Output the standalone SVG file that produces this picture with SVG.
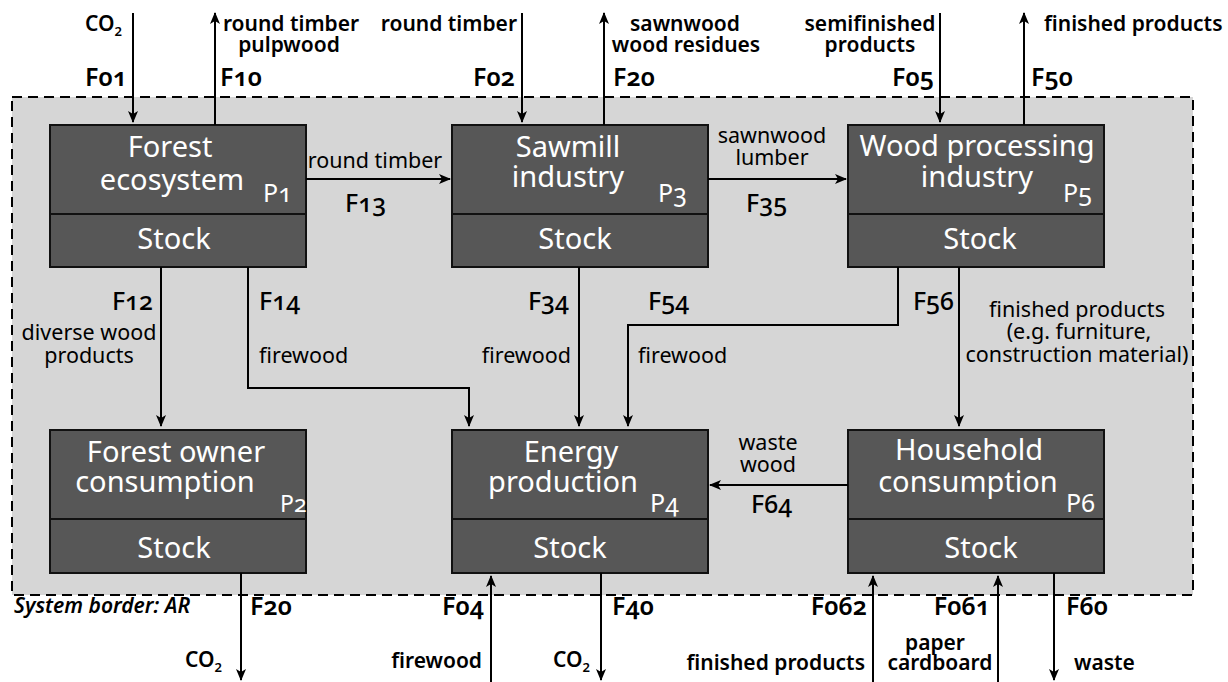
<svg xmlns="http://www.w3.org/2000/svg" width="1228" height="682" viewBox="0 0 1228 682">
<defs>
<style>
.bg{fill:#fff}
.border{fill:#d6d6d6;stroke:#000;stroke-width:2;stroke-dasharray:10 6}
.box{fill:#575757;stroke:#111;stroke-width:2}
.t{font-family:"Noto Sans","Open Sans",sans-serif;fill:#fff;font-size:29px;text-anchor:middle}
.p{font-family:"Noto Sans","Open Sans",sans-serif;fill:#fff;font-size:25px;font-variant-numeric:oldstyle-nums;font-feature-settings:"onum"}
.lb{font-family:"Noto Sans","Open Sans",sans-serif;font-size:21px;font-weight:600;fill:#000}
.lr{font-family:"Noto Sans","Open Sans",sans-serif;font-size:21.5px;font-weight:400;fill:#000}
.f{font-family:"Noto Sans","Open Sans",sans-serif;font-size:25px;font-weight:600;fill:#000;font-variant-numeric:oldstyle-nums;font-feature-settings:"onum"}
.fr{font-family:"Noto Sans","Open Sans",sans-serif;font-size:25px;font-weight:500;fill:#000;font-variant-numeric:oldstyle-nums;font-feature-settings:"onum"}
.m{text-anchor:middle}
.e{text-anchor:end}
.c{fill:none;stroke:#000;stroke-width:2;marker-end:url(#ah)}
</style>
<marker id="ah" viewBox="0 0 12 10" refX="11" refY="5" markerWidth="12" markerHeight="10" markerUnits="userSpaceOnUse" orient="auto">
<path d="M0,0 L12,5 L0,10 L3,5 z" fill="#000"/>
</marker>
</defs>
<rect class="bg" x="0" y="0" width="1228" height="682"/>
<rect id="system-border" class="border" x="12" y="97" width="1181" height="498"/>

<g id="P1">
<rect class="box" x="50" y="125" width="256" height="89"/>
<rect class="box" x="50" y="214" width="256" height="53"/>
<text class="t" x="170" y="157">Forest</text>
<text class="t" x="172" y="190">ecosystem</text>
<text class="p" x="263" y="202">P1</text>
<text class="t" x="174" y="249">Stock</text>
</g>
<g id="P3">
<rect class="box" x="452" y="125" width="256" height="89"/>
<rect class="box" x="452" y="214" width="256" height="53"/>
<text class="t" x="568" y="157">Sawmill</text>
<text class="t" x="568" y="187">industry</text>
<text class="p" x="658" y="202">P3</text>
<text class="t" x="575" y="249">Stock</text>
</g>
<g id="P5">
<rect class="box" x="848" y="125" width="256" height="89"/>
<rect class="box" x="848" y="214" width="256" height="53"/>
<text class="t" x="977" y="156">Wood processing</text>
<text class="t" x="977" y="187">industry</text>
<text class="p" x="1063" y="202">P5</text>
<text class="t" x="980" y="249">Stock</text>
</g>
<g id="P2">
<rect class="box" x="50" y="430" width="256" height="89"/>
<rect class="box" x="50" y="519" width="256" height="54"/>
<text class="t" x="176" y="462">Forest owner</text>
<text class="t" x="165" y="492">consumption</text>
<text class="p" x="280" y="512" style="font-size:23px">P2</text>
<text class="t" x="174" y="558">Stock</text>
</g>
<g id="P4">
<rect class="box" x="452" y="430" width="256" height="89"/>
<rect class="box" x="452" y="519" width="256" height="54"/>
<text class="t" x="571" y="462">Energy</text>
<text class="t" x="563" y="492">production</text>
<text class="p" x="650" y="512">P4</text>
<text class="t" x="570" y="558">Stock</text>
</g>
<g id="P6">
<rect class="box" x="848" y="430" width="256" height="89"/>
<rect class="box" x="848" y="519" width="256" height="54"/>
<text class="t" x="969" y="460">Household</text>
<text class="t" x="968" y="492">consumption</text>
<text class="p" x="1066" y="512">P6</text>
<text class="t" x="981" y="558">Stock</text>
</g>

<g id="connectors">
<path class="c" d="M133,13 V122"/>
<path class="c" d="M215,125 V13"/>
<path class="c" d="M522,13 V122"/>
<path class="c" d="M604,125 V13"/>
<path class="c" d="M940,13 V122"/>
<path class="c" d="M1024,125 V13"/>
<path class="c" d="M306,179 H450"/>
<path class="c" d="M708,179 H846"/>
<path class="c" d="M161,267 V426"/>
<path class="c" d="M248,267 V388 H469 V426"/>
<path class="c" d="M579,267 V426"/>
<path class="c" d="M898,267 V325 H628 V426"/>
<path class="c" d="M959,267 V426"/>
<path class="c" d="M848,485 H710"/>
<path class="c" d="M241,573 V680"/>
<path class="c" d="M491,682 V576"/>
<path class="c" d="M601,573 V680"/>
<path class="c" d="M873,682 V576"/>
<path class="c" d="M998,682 V576"/>
<path class="c" d="M1054,573 V680"/>
</g>

<g id="labels">
<text class="lb" x="85" y="31" font-size="20">CO<tspan font-size="13" dy="5">2</tspan></text>
<text class="lb m" x="291" y="31">round timber</text>
<text class="lb m" x="289" y="52">pulpwood</text>
<text class="f e" x="127" y="86">F01</text>
<text class="f" x="220" y="86">F10</text>
<text class="lb e" x="517" y="31">round timber</text>
<text class="f e" x="515" y="86">F02</text>
<text class="lb m" x="685" y="31">sawnwood</text>
<text class="lb m" x="686" y="52">wood residues</text>
<text class="f" x="613" y="86">F20</text>
<text class="lb m" x="870" y="31">semifinished</text>
<text class="lb m" x="870" y="52">products</text>
<text class="f e" x="934" y="86">F05</text>
<text class="f" x="1031" y="86">F50</text>
<text class="lb" x="1044" y="31">finished products</text>

<text class="lr m" x="375" y="168">round timber</text>
<text class="fr" x="345" y="212">F13</text>
<text class="lr m" x="772" y="143">sawnwood</text>
<text class="lr m" x="772" y="165">lumber</text>
<text class="fr" x="746" y="212">F35</text>

<text class="fr e" x="153" y="310">F12</text>
<text class="lr m" x="89" y="340">diverse wood</text>
<text class="lr m" x="89" y="363">products</text>
<text class="fr" x="259" y="310">F14</text>
<text class="lr" x="259" y="363">firewood</text>
<text class="fr e" x="569" y="310">F34</text>
<text class="lr e" x="571" y="363">firewood</text>
<text class="fr" x="648" y="310">F54</text>
<text class="lr" x="638" y="363">firewood</text>
<text class="fr e" x="954" y="310">F56</text>
<text class="lr m" x="1077" y="317">finished products</text>
<text class="lr m" x="1079" y="339">(e.g. furniture,</text>
<text class="lr m" x="1077" y="362">construction material)</text>
<text class="lr m" x="768" y="450">waste</text>
<text class="lr m" x="768" y="472">wood</text>
<text class="fr" x="751" y="513">F64</text>

<text class="lb" x="14" y="613" font-style="italic">System border: AR</text>
<text class="f" x="250" y="615">F20</text>
<text class="lb" x="185" y="667" font-size="20">CO<tspan font-size="13" dy="5">2</tspan></text>
<text class="f e" x="484" y="615">F04</text>
<text class="lb e" x="482" y="668">firewood</text>
<text class="f" x="612" y="615">F40</text>
<text class="lb" x="553" y="667" font-size="20">CO<tspan font-size="13" dy="5">2</tspan></text>
<text class="f e" x="867" y="615">F062</text>
<text class="lb e" x="865" y="670">finished products</text>
<text class="f e" x="990" y="615">F061</text>
<text class="lb m" x="935" y="650">paper</text>
<text class="lb m" x="940" y="670">cardboard</text>
<text class="f" x="1066" y="615">F60</text>
<text class="lb" x="1074" y="670">waste</text>
</g>
</svg>
